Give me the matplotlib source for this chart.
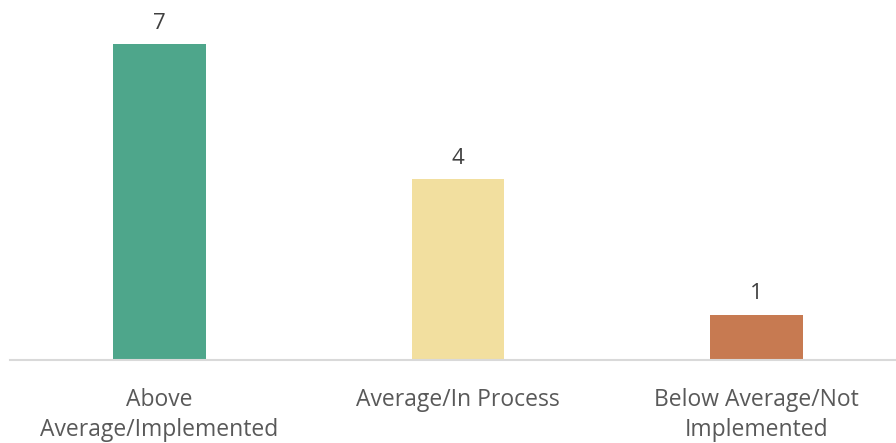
import matplotlib
matplotlib.use("Agg")
import matplotlib.pyplot as plt

categories = ["Above\nAverage/Implemented", "Average/In Process", "Below Average/Not\nImplemented"]
values = [7, 4, 1]
colors = ["#4EA68B", "#F2DF9F", "#C77A51"]

plt.rcParams['font.family'] = ['Open Sans', 'DejaVu Sans']
W, H = 896, 443
fig = plt.figure(figsize=(W/100, H/100), dpi=100)
ax = fig.add_axes([10/W, 83/H, 896/W, 360/H])
x = list(range(len(values)))
ax.bar(x, values, width=0.31, color=colors, zorder=2)
ax.set_xlim(-0.5, 2.5)
ax.set_ylim(0, 360/45.14)
for s in ['top', 'right', 'left']:
    ax.spines[s].set_visible(False)
ax.spines['bottom'].set_color('#D9D9D9')
ax.spines['bottom'].set_linewidth(1.5)
ax.set_yticks([])
ax.set_xticks(x)
ax.set_xticklabels(categories, fontsize=16.5, color='#595959', linespacing=1.33)
ax.tick_params(axis='x', length=0, pad=20)
for xi, v in zip(x, values):
    ax.annotate(str(v), (xi, v), xytext=(0, 21), textcoords='offset pixels',
                ha='center', va='center', fontsize=16, color='#404040')
fig.savefig("out.png", dpi=100)
